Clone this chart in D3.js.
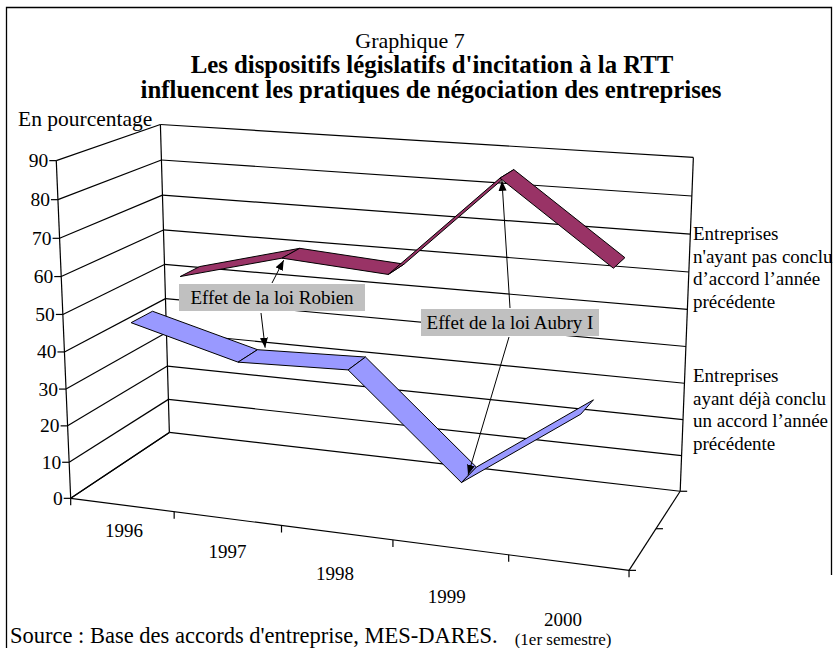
<!DOCTYPE html>
<html><head><meta charset="utf-8">
<script src="https://cdn.jsdelivr.net/npm/d3@7"></script>
<style>body{margin:0;background:#fff}svg{display:block}text{font-family:"Liberation Serif","Times New Roman",serif;fill:#000}</style>
</head><body><svg id="c" width="839" height="648" font-family="'Liberation Serif','Times New Roman',serif"></svg>
<script>
// ---- data ----
const categories = ["1996", "1997", "1998", "1999", "2000"];
const seriesKeys = ["deja", "pas"]; // front -> back
const valuesDeja = [47, 39.3, 40.2, 14, 35];
const valuesPas = [52.5, 60, 58, 85.5, 64.5];
const valueTicks = [0, 10, 20, 30, 40, 50, 60, 70, 80, 90];
const labelDeja = ["Entreprises", "ayant déjà conclu", "un accord l’année", "précédente"];
const labelPas = ["Entreprises", "n'ayant pas conclu", "d’accord l’année", "précédente"];
const titleLines = ["Graphique 7", "Les dispositifs législatifs d'incitation à la RTT", "influencent les pratiques de négociation des entreprises"];

const svg = d3.select("#c");
const colors = {deja: "#9999ff", pas: "#993366"};

// ---- projection (fitted to box corners) ----
const anchors = [[0,0,0,70.7,498.3],[0,1,0,56,161],[0,0,1,169.3,432.3],[0,1,1,160.7,124.3],[1,0,1,680,491.7],[1,1,1,693.3,157.3],[1,0,0,629.3,570]];
function fit(){
  const A=[], b=[];
  anchors.forEach(([u,v,w,x,y])=>{
    A.push([u,v,w,1,0,0,0,0,-x*u,-x*v,-x*w]); b.push(x);
    A.push([0,0,0,0,u,v,w,1,-y*u,-y*v,-y*w]); b.push(y);
  });
  const n=11, M=[];
  for(let i=0;i<n;i++){M.push([]);for(let j=0;j<n;j++){let s=0;for(let k=0;k<A.length;k++)s+=A[k][i]*A[k][j];M[i].push(s);}let s=0;for(let k=0;k<A.length;k++)s+=A[k][i]*b[k];M[i].push(s);}
  for(let c=0;c<n;c++){let p=c;for(let r=c+1;r<n;r++)if(Math.abs(M[r][c])>Math.abs(M[p][c]))p=r;[M[c],M[p]]=[M[p],M[c]];
    for(let r=0;r<n;r++){if(r===c)continue;const f=M[r][c]/M[c][c];for(let k=c;k<=n;k++)M[r][k]-=f*M[c][k];}}
  return M.map((row,i)=>row[n]/row[i]);
}
const P = fit();
function proj(u,v,w){const d=1+P[8]*u+P[9]*v+P[10]*w;return [(P[0]*u+P[1]*v+P[2]*w+P[3])/d,(P[4]*u+P[5]*v+P[6]*w+P[7])/d];}

const xBand = d3.scaleBand().domain(categories).range([0,1]);
const yLin = d3.scaleLinear().domain([0,90]).range([0,1]);
const zBand = d3.scaleBand().domain(seriesKeys).range([0,1]).paddingInner(0.58).paddingOuter(0.29);
const line = d3.line();

// ---- frame ----
svg.append("path").attr("d","M6.5,648V7.5H831.5V575").attr("fill","none").attr("stroke","#000").attr("stroke-width",1.3);

// ---- titles ----
svg.append("text").attr("x",410).attr("y",48).attr("text-anchor","middle").style("font-size","22px").text(titleLines[0]);
svg.append("text").attr("x",432).attr("y",73).attr("text-anchor","middle").style("font-size","24.8px").style("font-weight","bold").text(titleLines[1]);
svg.append("text").attr("x",431).attr("y",98).attr("text-anchor","middle").style("font-size","24.8px").style("font-weight","bold").text(titleLines[2]);
svg.append("text").attr("x",18).attr("y",126).style("font-size","21.5px").text("En pourcentage");

const g = svg.append("g").attr("stroke","#000").attr("fill","none").attr("stroke-width",1.2);
const seg=(a,b)=>g.append("path").attr("d",line([proj(...a),proj(...b)]));
valueTicks.forEach(t=>{
  const v=yLin(t);
  seg([0,v,0],[0,v,1]);
  seg([0,v,1],[1,v,1]);
});
seg([0,0,0],[0,1,0]); seg([0,0,1],[0,1,1]); seg([1,0,1],[1,1,1]);
seg([0,0,0],[1,0,0]); seg([1,0,0],[1,0,1]); seg([0,0,0],[0,0,1]);
valueTicks.forEach(t=>{
  const p=proj(0,yLin(t),0);
  g.append("path").attr("d",line([[p[0]-7,p[1]],p]));
  svg.append("text").attr("x",p[0]-8).attr("y",p[1]+6.5).attr("text-anchor","end").style("font-size","19.5px").text(t);
});
const bounds = categories.map(c=>xBand(c)).concat([1]);
bounds.forEach(u=>{const p=proj(u,0,0);g.append("path").attr("d",line([p,[p[0],p[1]+7]]));});
[0,0.5,1].forEach(w=>{const p=proj(1,0,w);g.append("path").attr("d",line([p,[p[0]+7,p[1]]]));});
categories.forEach((c,i)=>{
  const p=proj(xBand(c)+xBand.bandwidth()/2,0,0);
  const x=p[0]+2-1.8*i, y=p[1]+32+7.8*i;
  svg.append("text").attr("x",x).attr("y",y).attr("text-anchor","middle").style("font-size","19px").text(c);
  if(i===4) svg.append("text").attr("x",x).attr("y",y+19).attr("text-anchor","middle").style("font-size","17px").text("(1er semestre)");
});

// ---- ribbons ----
function ribbon(key, vals){
  const w0=zBand(key), w1=w0+zBand.bandwidth();
  const rg=svg.append("g");
  for(let i=0;i<vals.length-1;i++){
    const u0=xBand(categories[i])+xBand.bandwidth()/2, u1=xBand(categories[i+1])+xBand.bandwidth()/2;
    const v0=yLin(vals[i]), v1=yLin(vals[i+1]);
    rg.append("path").attr("d",line([proj(u0,v0,w0),proj(u1,v1,w0),proj(u1,v1,w1),proj(u0,v0,w1)])+"Z")
      .attr("fill",colors[key]).attr("stroke","#000").attr("stroke-width",1).attr("stroke-linejoin","round");
  }
}
ribbon("pas", valuesPas);
ribbon("deja", valuesDeja);

function multi(lines,x,y){const t=svg.append("text").attr("x",x).attr("y",y).style("font-size","19px");lines.forEach((l,i)=>t.append("tspan").attr("x",x).attr("dy",i?22.5:0).text(l));}
multi(labelPas,693,240);
multi(labelDeja,693,382);

// ---- annotations ----
const defs=svg.append("defs");
defs.append("marker").attr("id","ah").attr("viewBox","0 0 10 10").attr("refX",10).attr("refY",5).attr("markerWidth",10).attr("markerHeight",10).attr("markerUnits","userSpaceOnUse").attr("orient","auto")
  .append("path").attr("d","M0,1L10,5L0,9Z").attr("fill","#000");
function box(x,y,w,h,txt){
  svg.append("rect").attr("x",x).attr("y",y).attr("width",w).attr("height",h).attr("fill","#c0c0c0");
  svg.append("text").attr("x",x+w/2).attr("y",y+h/2+6.5).attr("text-anchor","middle").style("font-size","19px").text(txt);
}
function arrow(a,b){svg.append("path").attr("d",line([a,b])).attr("stroke","#000").attr("stroke-width",1).attr("marker-end","url(#ah)");}
const ctr=(c)=>xBand(c)+xBand.bandwidth()/2;
const wD=zBand("deja"), wP=zBand("pas");
const tipP97=proj(ctr("1997"),yLin(valuesPas[1]),wP+0.02);
const tipD97=proj(ctr("1997")+0.02,yLin(valuesDeja[1]),wD+zBand.bandwidth());
const tipP99=proj(ctr("1999"),yLin(valuesPas[3]),wP+0.03);
const tipD99=proj(ctr("1999"),yLin(valuesDeja[3]),wD+0.05);
box(179,284,186,27,"Effet de la loi Robien");
box(421,309,178,27,"Effet de la loi Aubry I");
arrow([272,283],[tipP97[0],tipP97[1]+3]);
arrow([261,313],[tipD97[0]-3,tipD97[1]-3]);
arrow([510,308],[tipP99[0],tipP99[1]+4]);
arrow([509,337],[tipD99[0]+3,tipD99[1]-4]);

svg.append("text").attr("x",10).attr("y",643).style("font-size","22.5px").text("Source : Base des accords d'entreprise, MES-DARES.");
</script></body></html>
